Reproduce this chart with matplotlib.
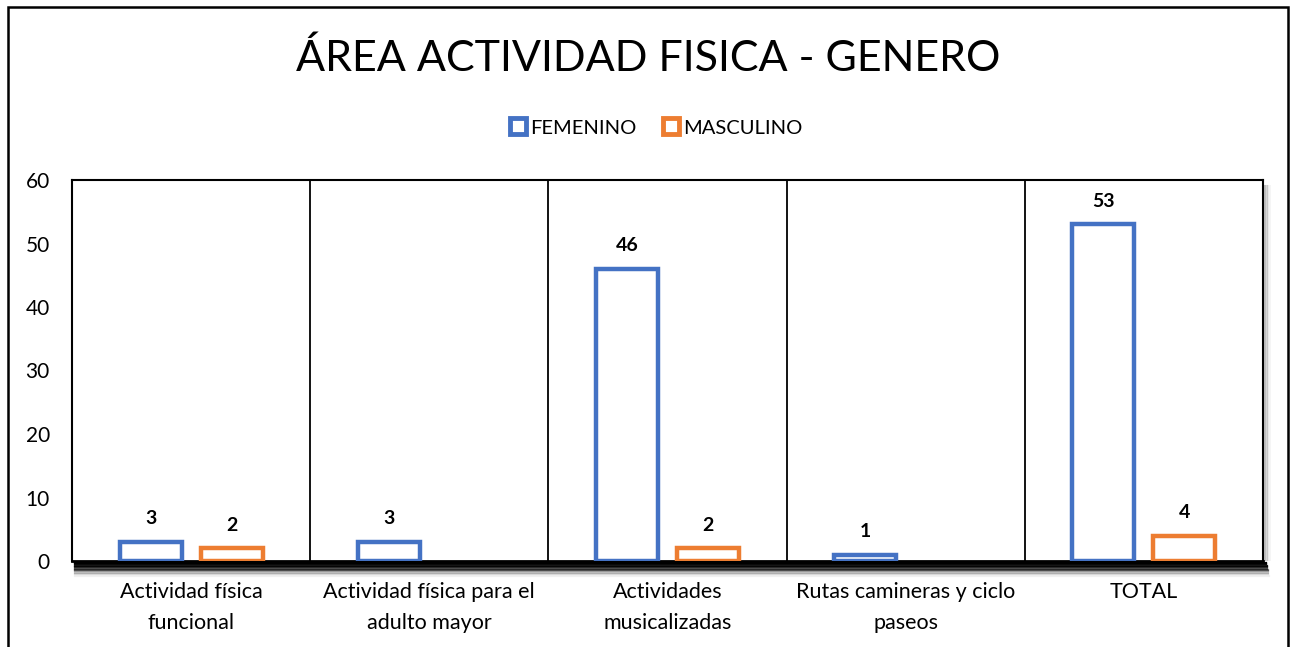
import matplotlib.pyplot as plt
import matplotlib.patches as mpatches
from matplotlib.lines import Line2D
import numpy as np

plt.rcParams['font.family'] = ['Lato', 'DejaVu Sans']

categories = ["Actividad física\nfuncional", "Actividad física para el\nadulto mayor",
              "Actividades\nmusicalizadas", "Rutas camineras y ciclo\npaseos", "TOTAL"]
femenino = [3, 3, 46, 1, 53]
masculino = [2, 0, 2, 0, 4]
yticks = [0, 10, 20, 30, 40, 50, 60]

blue = '#4472C4'
orange = '#ED7D31'

fig = plt.figure(figsize=(12.97, 6.47), dpi=100)
W, H = 1297, 647
# plot area in pixels: left 72, right 1263, top 180, bottom 561
ax = fig.add_axes([72 / W, 1 - 561 / H, (1263 - 72) / W, (561 - 180) / H])

x = np.arange(len(categories))
bw = 0.26
off = 0.17
for xi, v in zip(x, femenino):
    if v > 0:
        ax.bar(xi - off, v, bw, facecolor='white', edgecolor=blue, linewidth=3.2, zorder=3)
        ax.text(xi - off, v + 2.3, str(v), ha='center', va='bottom', fontsize=14,
                fontweight='bold', zorder=4)
for xi, v in zip(x, masculino):
    if v > 0:
        ax.bar(xi + off, v, bw, facecolor='white', edgecolor=orange, linewidth=3.2, zorder=3)
        ax.text(xi + off, v + 2.3, str(v), ha='center', va='bottom', fontsize=14,
                fontweight='bold', zorder=4)

ax.set_xlim(-0.5, len(categories) - 0.5)
ax.set_ylim(0, 60)
ax.set_yticks(yticks)
ax.set_yticklabels([str(t) for t in yticks], fontsize=15)
ax.set_xticks(x)
ax.set_xticklabels(categories, fontsize=15.5, linespacing=1.7)
ax.tick_params(axis='both', length=0)
ax.tick_params(axis='y', pad=16)
ax.tick_params(axis='x', pad=15)
for xb in x[:-1] + 0.5:
    ax.axvline(xb, color='black', linewidth=1.3, zorder=2)
for s in ax.spines.values():
    s.set_linewidth(1.5)
    s.set_color('black')
ax.spines['bottom'].set_linewidth(2)

# soft shadow below the plot area
shade = [1.0, 0.95, 0.9, 0.8, 0.65, 0.5, 0.35, 0.22, 0.12, 0.06]
for i, a in enumerate(shade):
    y = 1 - (563 + i * 1.4) / H
    fig.add_artist(Line2D([75 / W, (1266 + i * 0.3) / W], [y, y], color='black',
                          alpha=a, linewidth=1.6))
for i, a in enumerate([0.25, 0.15, 0.08, 0.04]):
    xr = (1265 + i * 1.5) / W
    fig.add_artist(Line2D([xr, xr], [1 - 560 / H, 1 - 186 / H], color='black',
                          alpha=a, linewidth=1.5))

# outer chart frame
fig.add_artist(mpatches.Rectangle((8 / W, -0.05), (1288 - 8) / W, 1.05 - 7 / H,
                                  fill=False, edgecolor='black', linewidth=1.8,
                                  transform=fig.transFigure))

fig.text(0.5, 1 - 58 / H, "ÁREA ACTIVIDAD FISICA - GENERO", ha='center', va='center',
         fontsize=31)

handles = [Line2D([], [], marker='s', linestyle='none', markersize=11, markerfacecolor='white',
                  markeredgecolor=blue, markeredgewidth=3.5, label='FEMENINO'),
           Line2D([], [], marker='s', linestyle='none', markersize=11, markerfacecolor='white',
                  markeredgecolor=orange, markeredgewidth=3.5, label='MASCULINO')]
fig.legend(handles=handles, loc='center', bbox_to_anchor=(0.505, 1 - 128 / H), ncol=2,
           frameon=False, fontsize=14.5, handletextpad=0.1, columnspacing=1.2, handlelength=1.0)

fig.savefig('out.png', dpi=100)
